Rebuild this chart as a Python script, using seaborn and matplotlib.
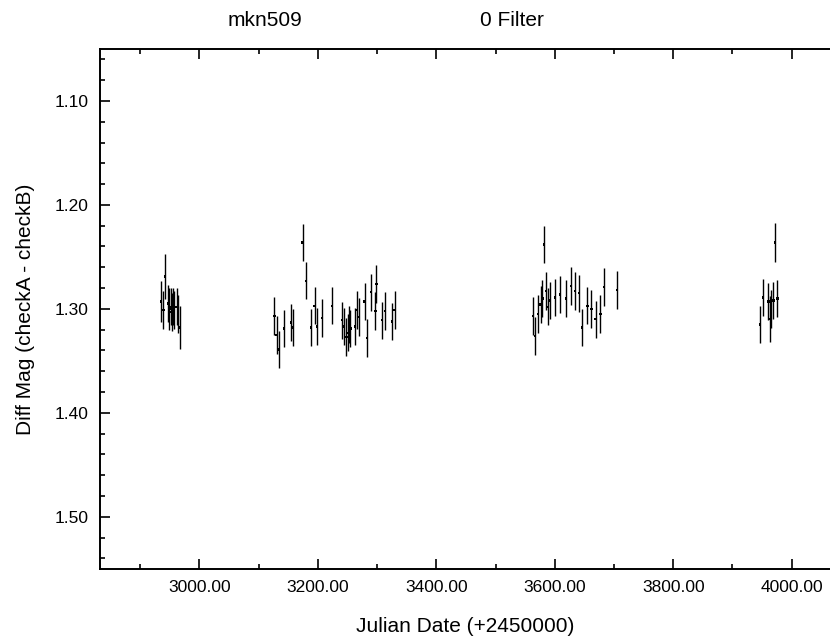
import matplotlib
matplotlib.use("Agg")
import matplotlib.pyplot as plt
from matplotlib.ticker import MultipleLocator, FormatStrFormatter
import pandas as pd
import seaborn as sns

# Julian date offsets (+2450000), diff magnitudes and 1-sigma errors
jd_a = [2935.5, 2939.4, 2942.6, 2947.7, 2949.4, 2951.6, 2953.4, 2955.0,
        2957.3, 2961.8, 2964.0, 2967.4]
mag_a = [1.293, 1.301, 1.269, 1.295, 1.300, 1.298, 1.303, 1.298,
         1.301, 1.298, 1.305, 1.318]
err_a = [0.020, 0.018, 0.022, 0.018, 0.020, 0.018, 0.018, 0.018,
         0.018, 0.018, 0.018, 0.021]

jd_b = [3126.7, 3130.6, 3135.0, 3142.5, 3154.3, 3157.7, 3174.5, 3180.6,
        3188.6, 3194.8, 3198.2, 3207.0, 3224.0, 3240.9, 3244.3, 3248.2,
        3250.5, 3252.2, 3254.9, 3262.8, 3266.2, 3269.0, 3279.2, 3282.6,
        3289.8, 3297.1, 3298.8, 3308.4, 3313.0, 3325.3, 3329.8]
mag_b = [1.307, 1.325, 1.339, 1.319, 1.313, 1.318, 1.236, 1.273,
         1.318, 1.297, 1.317, 1.309, 1.297, 1.311, 1.317, 1.327,
         1.323, 1.315, 1.319, 1.317, 1.301, 1.308, 1.293, 1.328,
         1.284, 1.302, 1.276, 1.311, 1.302, 1.312, 1.301]
err_b = [0.018] * 31

jd_c = [3563.0, 3567.0, 3572.0, 3576.0, 3579.0, 3582.0, 3585.0, 3588.0,
        3592.0, 3600.0, 3609.0, 3619.0, 3627.0, 3633.7, 3641.0, 3645.5,
        3655.0, 3661.7, 3669.0, 3677.0, 3683.0, 3705.0]
mag_c = [1.307, 1.326, 1.305, 1.296, 1.290, 1.238, 1.283, 1.298,
         1.292, 1.289, 1.286, 1.290, 1.278, 1.283, 1.285, 1.318,
         1.297, 1.300, 1.310, 1.305, 1.279, 1.282]
err_c = [0.018] * 22

jd_d = [3946.5, 3952.0, 3960.5, 3963.0, 3965.0, 3969.0, 3972.0, 3975.8]
mag_d = [1.315, 1.289, 1.293, 1.310, 1.300, 1.292, 1.236, 1.290]
err_d = [0.018, 0.018, 0.018, 0.022, 0.018, 0.018, 0.019, 0.018]

df = pd.DataFrame({
    "jd": jd_a + jd_b + jd_c + jd_d,
    "mag": mag_a + mag_b + mag_c + mag_d,
    "err": err_a + err_b + err_c + err_d,
})

sns.set_style("ticks")
plt.rcParams["font.family"] = ["Liberation Sans", "DejaVu Sans"]
plt.rcParams["text.color"] = "black"
plt.rcParams["axes.labelcolor"] = "black"
plt.rcParams["xtick.color"] = "black"
plt.rcParams["ytick.color"] = "black"

fig = plt.figure(figsize=(8.30, 6.43), dpi=100)
ax = fig.add_axes([100 / 830, 74.3 / 643, 730 / 830, 519.7 / 643])

# error bars then centre points
ax.vlines(df["jd"], df["mag"] - df["err"], df["mag"] + df["err"],
          color="black", linewidth=1.0)
sns.scatterplot(data=df, x="jd", y="mag", ax=ax, s=3, color="black",
                marker="s", edgecolor="none", legend=False)

ax.set_xlim(2832.4, 4064.6)
ax.set_ylim(1.55, 1.05)

ax.xaxis.set_major_locator(MultipleLocator(200))
ax.xaxis.set_minor_locator(MultipleLocator(100))
ax.xaxis.set_major_formatter(FormatStrFormatter("%.2f"))
ax.yaxis.set_major_locator(MultipleLocator(0.1))
ax.yaxis.set_minor_locator(MultipleLocator(0.02))
ax.yaxis.set_major_formatter(FormatStrFormatter("%.2f"))

ax.tick_params(which="both", direction="in", top=True, right=False,
               labelsize=12.5, width=1.2, color="black", labelcolor="black",
               pad=8)
ax.tick_params(which="major", length=7)
ax.tick_params(which="minor", length=3.5)
ax.spines["right"].set_visible(False)
for s in ["left", "top", "bottom"]:
    ax.spines[s].set_linewidth(1.4)
    ax.spines[s].set_color("black")

ax.set_xlabel("Julian Date (+2450000)", fontsize=15, labelpad=16,
              color="black")
ax.set_ylabel("Diff Mag (checkA - checkB)", fontsize=15, labelpad=14,
              color="black")

fig.text(265 / 830, 1 - 21 / 643, "mkn509", fontsize=15, color="black",
         ha="center", va="center")
fig.text(512 / 830, 1 - 21 / 643, "0 Filter", fontsize=15, color="black",
         ha="center", va="center")

fig.savefig("out.png", dpi=100)
